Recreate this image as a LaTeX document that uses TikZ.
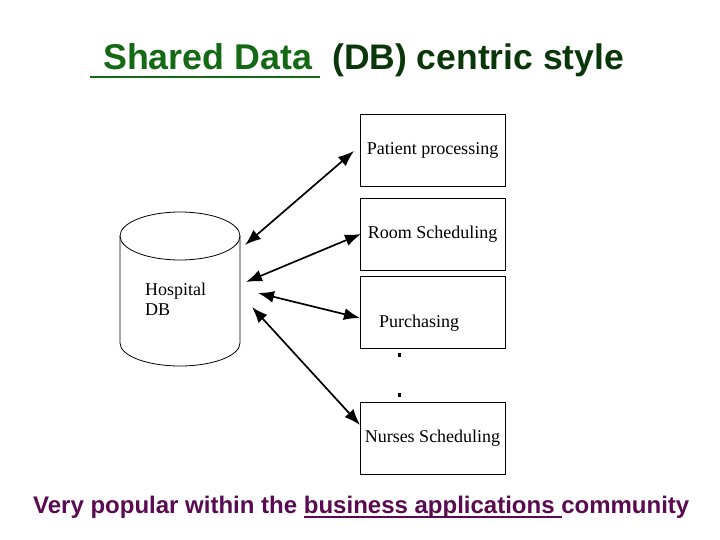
\documentclass[tikz,border=0pt]{standalone}
\usepackage{fontspec}
\setmainfont{Liberation Serif}
\newfontfamily\arial{Liberation Sans}
\usetikzlibrary{arrows.meta}
\definecolor{tgreen}{RGB}{20,105,20}
\definecolor{tdark}{RGB}{10,55,10}
\definecolor{tpurple}{RGB}{90,10,80}
\tikzset{
  appbox/.style={draw, line width=0.8pt, minimum width=145pt, minimum height=72pt, inner sep=0pt, font=\fontsize{18}{20}\selectfont},
  link/.style={line width=1.7pt, {Latex[length=16pt,width=12pt]}-{Latex[length=16pt,width=12pt]}},
}
\begin{document}
\begin{tikzpicture}[x=1pt,y=-1pt]
\useasboundingbox (0,0) rectangle (720,540);
% title
\node[anchor=base west, inner sep=0pt, font=\arial\bfseries\fontsize{35.8}{38}\selectfont, text=tgreen] (t1) at (103,70) {Shared Data};
\draw[tgreen, line width=2pt] (90,77.5) -- (320,77.5);
\node[anchor=base west, inner sep=0pt, font=\arial\bfseries\fontsize{35.5}{38}\selectfont, text=tdark] (t2) at (332,70) {(DB) centric style};
% boxes
\node[appbox] (pp) at (432.5,150) {Patient processing};
\node[appbox] (rs) at (432.5,234) {Room Scheduling};
\node[appbox] (pu) at (432.5,312) {};
\node[anchor=base west, inner sep=0pt, font=\fontsize{18}{20}\selectfont] (put) at (379,327) {Purchasing};
\node[appbox] (ns) at (432.5,438) {Nurses Scheduling};
\fill (397.5,352.5) rectangle (401,356.5);
\fill (397.5,392.5) rectangle (401,396.5);
% cylinder
\draw[line width=0.8pt] (120,236) arc[start angle=180, end angle=-180, x radius=60, y radius=24];
\draw[line width=0.8pt] (120,236) -- (120,343) arc[start angle=180, end angle=0, x radius=60, y radius=23] -- (240,236);
\node[anchor=base west, inner sep=0pt, align=left, font=\fontsize{18}{20}\selectfont] (db) at (145,315) {Hospital\\DB};
\coordinate (c1) at (245,245);
\coordinate (c2) at (246,282);
\coordinate (c3) at (258,293);
\coordinate (c4) at (252,307);
\coordinate (e1) at (354,151);
\coordinate (e2) at (361,234);
\coordinate (e3) at (360,318);
\coordinate (e4) at (360,425);
\draw[link] (c1) -- (e1);
\draw[link] (c2) -- (e2);
\draw[link] (c3) -- (e3);
\draw[link] (c4) -- (e4);
% bottom text
\node[anchor=base west, inner sep=0pt, font=\arial\bfseries\fontsize{24}{28}\selectfont, text=tpurple] (bt) at (33,513) {Very popular within the business applications community};
\draw[tpurple, line width=1.5pt] (304,517) -- (562,517);
\end{tikzpicture}
\end{document}
